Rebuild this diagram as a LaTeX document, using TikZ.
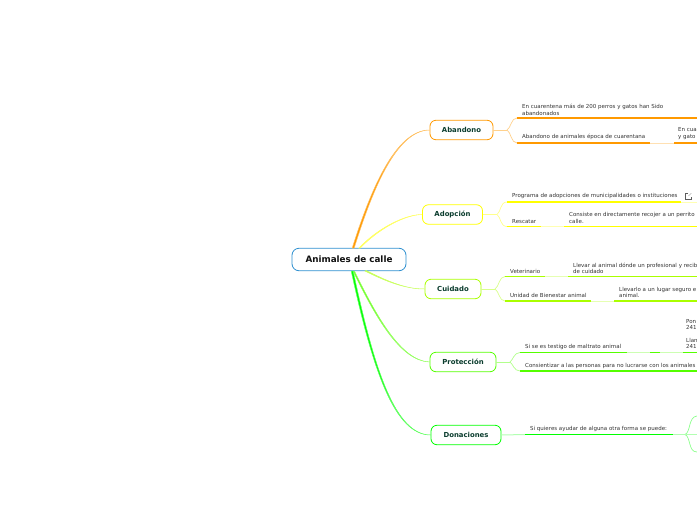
\documentclass[tikz,border=0pt]{standalone}
\usepackage{fontspec}
\setmainfont{DejaVu Sans}
\definecolor{cabandono}{HTML}{FF9900}
\definecolor{cadopcion}{HTML}{FFFF00}
\definecolor{ccuidado}{HTML}{AAFF00}
\definecolor{cproteccion}{HTML}{55FF00}
\definecolor{cdonacion}{HTML}{00FF00}
\definecolor{cinkroot}{HTML}{111111}
\definecolor{cinkmain}{HTML}{0B3D2E}
\definecolor{cinkleaf}{HTML}{333333}
\definecolor{crootline}{HTML}{2E90D0}
\tikzset{
  rootbox/.style={draw=crootline, fill=white, rounded corners=7pt, line width=0.8pt, minimum width=114pt, minimum height=22.5pt, inner sep=0pt, text=cinkroot, font=\fontsize{8.8}{10}\selectfont\bfseries},
  mainbox/.style={draw=#1, fill=white, rounded corners=6pt, line width=0.8pt, minimum height=19.5pt, inner sep=0pt, text=cinkmain, font=\fontsize{6.9}{8}\selectfont\bfseries},
  leaf/.style={anchor=south west, inner sep=0pt, align=left, text=cinkleaf, font=\fontsize{5.5}{6.6}\selectfont},
  twig/.style={draw=#1!60!white, fill=#1, line width=0.5pt},
  stalk/.style={draw=#1!45!white, line width=1pt},
  fork/.style={draw=#1!45!white, line width=0.7pt},
  rule/.style={draw=#1, line width=1.2pt},
  pale/.style={draw=#1!30!white, line width=1pt}
}
\begin{document}
\begin{tikzpicture}[x=1pt,y=-1pt]
\useasboundingbox (0,0) rectangle (697,520);
\clip (0,0) rectangle (697,520);
\node[rootbox, minimum width=114pt] (root) at (349,259.5) {Animales de calle};
\node[mainbox=cabandono, minimum width=63pt] (abandono) at (461.5,130) {Abandono};
\node[mainbox=cadopcion, minimum width=60pt] (adopcion) at (452.5,214.5) {Adopción};
\node[mainbox=ccuidado, minimum width=56pt] (cuidado) at (453,289) {Cuidado};
\node[mainbox=cproteccion, minimum width=66pt] (proteccion) at (463,362) {Protección};
\node[mainbox=cdonacion, minimum width=70pt] (donaciones) at (466,435) {Donaciones};
\coordinate (r1a) at (352.2,248);
\coordinate (r1b) at (354.2,248);
\coordinate (r2a) at (359,248);
\coordinate (r2b) at (360.2,248);
\coordinate (r3a) at (365,271);
\coordinate (r3b) at (366.2,270.5);
\coordinate (r4a) at (353,271);
\coordinate (r4b) at (354.4,271);
\coordinate (r5a) at (351.2,271);
\coordinate (r5b) at (353.2,271);
\draw[twig=cabandono] (r1a) .. controls (370,192) and (395,130) .. (abandono.west) .. controls (395.5,130.3) and (371.5,193) .. (r1b) -- cycle;
\draw[twig=cadopcion] (r2a) .. controls (378,228) and (405,214.5) .. (adopcion.west) .. controls (405,214.8) and (379,228.5) .. (r2b) -- cycle;
\draw[twig=ccuidado] (r3a) .. controls (385,281) and (405,289) .. (cuidado.west) .. controls (405,289.3) and (385,280) .. (r3b) -- cycle;
\draw[twig=cproteccion] (r4a) .. controls (375,316) and (400,361) .. (proteccion.west) .. controls (400.5,360.7) and (376,315) .. (r4b) -- cycle;
\draw[twig=cdonacion] (r5a) .. controls (373,372) and (395,435) .. (donaciones.west) .. controls (395.5,434.7) and (374.5,371) .. (r5b) -- cycle;
\coordinate (s1) at (507,130);
\coordinate (e1a) at (517,118);
\coordinate (e1b) at (697,118);
\coordinate (e2a) at (517,143);
\coordinate (e2b) at (650,143);
\coordinate (e2c) at (674,143);
\coordinate (e2d) at (697,143);
\draw[stalk=cabandono] (abandono.east) -- (s1);
\draw[fork=cabandono] (s1) .. controls (511,128) and (511,118) .. (e1a);
\draw[fork=cabandono] (s1) .. controls (511,132) and (511,143) .. (e2a);
\draw[rule=cabandono] (e1a) -- (e1b);
\draw[rule=cabandono] (e2a) -- (e2b);
\draw[pale=cabandono] (e2b) -- (e2c);
\draw[rule=cabandono] (e2c) -- (e2d);
\node[leaf] (t1) at (522,115.5) {En cuarentena más de 200 perros y gatos han Sido\\abandonados};
\node[leaf] (t2) at (522,139.5) {Abandono de animales época de cuarentana};
\node[leaf] (t3) at (678,139.5) {En cua\\y gato};
\coordinate (s2) at (497,214.5);
\coordinate (e3a) at (507,202);
\coordinate (e3b) at (681,202);
\coordinate (e3c) at (697,202);
\coordinate (e4a) at (507,226.5);
\coordinate (e4b) at (541,226.5);
\coordinate (e4c) at (564,226.5);
\coordinate (e4d) at (697,226.5);
\draw[stalk=cadopcion] (adopcion.east) -- (s2);
\draw[fork=cadopcion] (s2) .. controls (501,212) and (500,202) .. (e3a);
\draw[fork=cadopcion] (s2) .. controls (501,217) and (500,226.5) .. (e4a);
\draw[rule=cadopcion] (e3a) -- (e3b);
\draw[pale=cadopcion] (e3b) -- (e3c);
\draw[rule=cadopcion] (e4a) -- (e4b);
\draw[pale=cadopcion] (e4b) -- (e4c);
\draw[rule=cadopcion] (e4c) -- (e4d);
\node[leaf] (t4) at (512,199) {Programa de adopciones de municipalidades o instituciones};
\node[leaf] (t5) at (512,223.5) {Rescatar};
\node[leaf] (t6) at (569,223.5) {Consiste en directamente recojer a un perrito\\calle.};
\draw[cinkleaf!80!white, line width=0.3pt] (688,193.5) -| (685.5,198.8) -| (691,196.5);
\draw[cinkleaf!80!white, line width=0.3pt] (688.5,196) -- (691.3,193.2);
\coordinate (s3) at (495,289);
\coordinate (e5a) at (505,276.5);
\coordinate (e5b) at (545,276.5);
\coordinate (e5c) at (568,276.5);
\coordinate (e5d) at (697,276.5);
\coordinate (e6a) at (505,301);
\coordinate (e6b) at (591,301);
\coordinate (e6c) at (614,301);
\coordinate (e6d) at (697,301);
\draw[stalk=ccuidado] (cuidado.east) -- (s3);
\draw[fork=ccuidado] (s3) .. controls (499,287) and (499,276.5) .. (e5a);
\draw[fork=ccuidado] (s3) .. controls (499,291) and (499,301) .. (e6a);
\draw[rule=ccuidado] (e5a) -- (e5b);
\draw[pale=ccuidado] (e5b) -- (e5c);
\draw[rule=ccuidado] (e5c) -- (e5d);
\draw[rule=ccuidado] (e6a) -- (e6b);
\draw[pale=ccuidado] (e6b) -- (e6c);
\draw[rule=ccuidado] (e6c) -- (e6d);
\node[leaf] (t7) at (510,274) {Veterinario};
\node[leaf] (t8) at (510,298) {Unidad de Bienestar animal};
\node[leaf] (t9) at (573,274) {Llevar al animal dónde un profesional y recib\\de cuidado};
\node[leaf] (t10) at (619,298) {Llevarlo a un lugar seguro e\\animal.};
\coordinate (s4) at (510,362);
\coordinate (e7a) at (520,352.5);
\coordinate (e7b) at (627,352.5);
\coordinate (e7c) at (650,352.5);
\coordinate (e7d) at (660,352.5);
\coordinate (e7e) at (683,352.5);
\coordinate (e7f) at (697,352.5);
\coordinate (e8a) at (520,371);
\coordinate (e8b) at (697,371);
\draw[stalk=cproteccion] (proteccion.east) -- (s4);
\draw[fork=cproteccion] (s4) .. controls (513,360) and (514,352.5) .. (e7a);
\draw[fork=cproteccion] (s4) .. controls (513,364) and (514,371) .. (e8a);
\draw[rule=cproteccion] (e7a) -- (e7b);
\draw[pale=cproteccion] (e7b) -- (e7c);
\draw[rule=cproteccion] (e7c) -- (e7d);
\draw[pale=cproteccion] (e7d) -- (e7e);
\draw[rule=cproteccion] (e7e) -- (e7f);
\draw[rule=cproteccion] (e8a) -- (e8b);
\node[leaf] (t11) at (525,350) {Si se es testigo de maltrato animal};
\node[leaf] (t12) at (525,368.5) {Consientizar a las personas para no lucrarse con los animales};
\node[leaf] (t13) at (686,330) {Pon\\241};
\node[leaf] (t14) at (686,349) {Llan\\241};
\coordinate (s5) at (685,434.5);
\coordinate (e9a) at (525,434.5);
\coordinate (e9b) at (673,434.5);
\coordinate (e10) at (697,416);
\coordinate (e11) at (697,434.5);
\coordinate (e12) at (697,452);
\draw[pale=cdonacion] (donaciones.east) -- (e9a);
\draw[rule=cdonacion] (e9a) -- (e9b);
\draw[pale=cdonacion] (e9b) -- (s5);
\draw[fork=cdonacion] (s5) .. controls (691,432) and (688,417) .. (e10);
\draw[fork=cdonacion] (s5) .. controls (691,437) and (688,452) .. (e12);
\draw[pale=cdonacion] (s5) -- (e11);
\node[leaf] (t15) at (530,432) {Si quieres ayudar de alguna otra forma se puede:};
\end{tikzpicture}
\end{document}
